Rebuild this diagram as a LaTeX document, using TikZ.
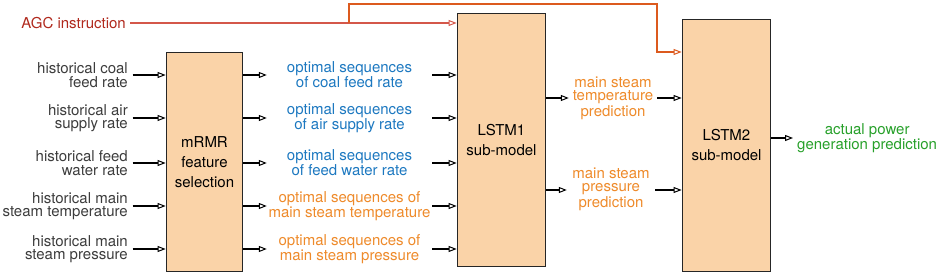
\documentclass[tikz,border=0pt]{standalone}
\usepackage{fontspec}
\setmainfont{TeX Gyre Heros}
\usetikzlibrary{arrows.meta}
\definecolor{boxfill}{HTML}{FAD3A8}
\definecolor{seqblue}{HTML}{1C78C0}
\definecolor{seqorange}{HTML}{EE8A2A}
\definecolor{powergreen}{HTML}{27A02A}
\definecolor{agcred}{HTML}{B0281C}
\definecolor{agcline}{HTML}{D4574A}
\definecolor{agcbranch}{HTML}{DC5A1E}
\definecolor{histgrey}{HTML}{3C3C3C}

\begin{document}
\begin{tikzpicture}[x=1pt, y=-1pt, font=\fontsize{15}{13.5}\selectfont,
    model/.style={draw=black!85, line width=1.8pt, fill=boxfill, align=center, inner sep=0pt, font=\fontsize{15}{20}\selectfont},
    hist/.style={anchor=east, align=right, text=histgrey, inner xsep=4.5pt, inner ysep=0pt},
    seq/.style={align=center, minimum width=165pt, inner sep=0pt},
    flow/.style={-{Triangle[open, length=8pt, width=6pt, line width=1pt]}, line width=1.4pt},
    agcflow/.style={-{Triangle[open, length=8pt, width=6pt, line width=1pt]}, line width=1.2pt}]
    \useasboundingbox (0,0) rectangle (941,275);

    % sub-models
    \node[model, minimum width=76pt, minimum height=219pt] (mrmr) at (204.5,162) {mRMR\\feature\\selection};
    \node[model, minimum width=88pt, minimum height=253pt] (lstm1) at (501.5,140) {LSTM1\\sub-model};
    \node[model, minimum width=88pt, minimum height=252pt] (lstm2) at (726.5,145.5) {LSTM2\\sub-model};

    % historical data
    \node[hist] (h1) at (132.5,75) {historical coal\\feed rate};
    \node[hist] (h2) at (132.5,118) {historical air\\supply rate};
    \node[hist] (h3) at (132.5,163) {historical feed\\water rate};
    \node[hist] (h4) at (132.5,206) {historical main\\steam temperature};
    \node[hist] (h5) at (132.5,249) {historical main\\steam pressure};

    % selected sequences
    \node[seq, text=seqblue] (s1) at (349.5,75) {optimal sequences\\of coal feed rate};
    \node[seq, text=seqblue] (s2) at (349.5,118) {optimal sequences\\of air supply rate};
    \node[seq, text=seqblue] (s3) at (349.5,163) {optimal sequences\\of feed water rate};
    \node[seq, text=seqorange] (s4) at (349.5,206) {optimal sequences of\\main steam temperature};
    \node[seq, text=seqorange] (s5) at (349.5,249) {optimal sequences of\\main steam pressure};

    % predictions
    \node[seq, text=seqorange, minimum width=88pt] (p1) at (613,98) {main steam\\temperature\\prediction};
    \node[seq, text=seqorange, minimum width=88pt] (p2) at (611,189) {main steam\\pressure\\prediction};
    \node[anchor=west, align=center, text=powergreen, inner xsep=4pt, inner ysep=0pt] (power) at (793,138) {actual power\\generation prediction};

    \node[anchor=east, text=agcred, inner xsep=4pt, inner ysep=0pt] (agc) at (130,23) {AGC instruction};
    \coordinate (split) at (349,23);
    \coordinate (detour) at (657,4);

    \draw[flow] (h1) -- (h1 -| mrmr.west);
    \draw[flow] (h2) -- (h2 -| mrmr.west);
    \draw[flow] (h3) -- (h3 -| mrmr.west);
    \draw[flow] (h4) -- (h4 -| mrmr.west);
    \draw[flow] (h5) -- (h5 -| mrmr.west);

    \draw[flow] (mrmr.east |- s1) -- (s1);
    \draw[flow] (mrmr.east |- s2) -- (s2);
    \draw[flow] (mrmr.east |- s3) -- (s3);
    \draw[flow] (mrmr.east |- s4) -- (s4);
    \draw[flow] (mrmr.east |- s5) -- (s5);

    \draw[flow] (s1) -- (s1 -| lstm1.west);
    \draw[flow] (s2) -- (s2 -| lstm1.west);
    \draw[flow] (s3) -- (s3 -| lstm1.west);
    \draw[flow] (s4) -- (s4 -| lstm1.west);
    \draw[flow] (s5) -- (s5 -| lstm1.west);

    \draw[flow] (lstm1.east |- p1) -- (p1);
    \draw[flow] (p1) -- (p1 -| lstm2.west);
    \draw[flow] ([yshift=-1pt]lstm1.east |- p2) -- ([yshift=-1pt]p2.west);
    \draw[flow] ([yshift=-1pt]p2.east) -- ([yshift=-1pt]p2 -| lstm2.west);
    \draw[flow] (lstm2.east |- power) -- (power);

    \draw[agcflow, draw=agcline] (agc) -- (agc -| lstm1.west);
    \draw[agcflow, draw=agcbranch] (split) |- (detour) |- (lstm2.west |- 0,52);
\end{tikzpicture}
\end{document}
